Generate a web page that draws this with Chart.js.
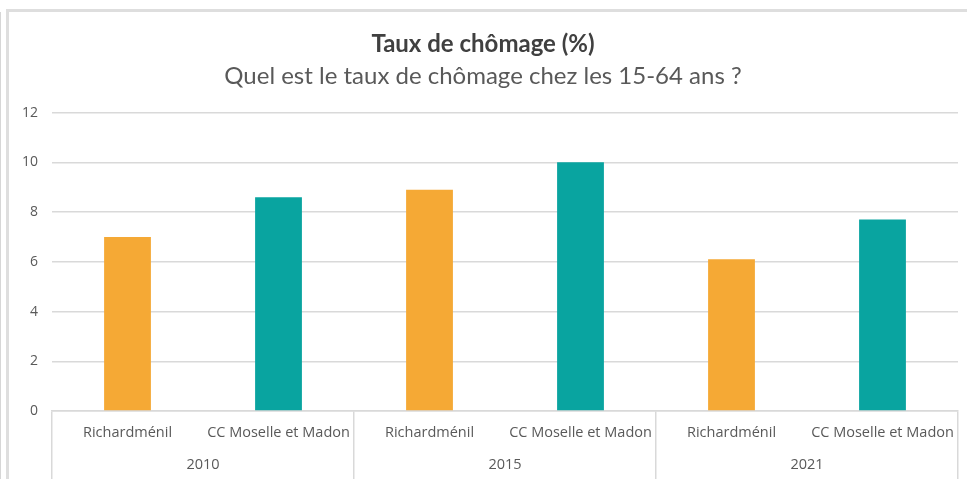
<!DOCTYPE html>
<html>
<head>
<meta charset="utf-8">
<script src="https://cdn.jsdelivr.net/npm/chart.js@4"></script>
<style>
  html, body { margin: 0; padding: 0; background: #fff; }
  #wrap { position: relative; width: 967px; height: 479px; overflow: hidden; }
  #edge { position: absolute; left: 0; top: 12px; width: 1px; height: 470px; background: #d6d6d6; }
  #frame { position: absolute; left: 6px; top: 9px; width: 970px; height: 480px;
           border-left: 3px solid #dedede; border-top: 3px solid #dedede; }
  canvas { position: absolute; left: 0; top: 0; }
</style>
</head>
<body>
<div id="wrap">
  <div id="edge"></div>
  <div id="frame"></div>
  <canvas id="myChart" width="967" height="479"></canvas>
</div>
<script>
var years = ['2010', '2015', '2021'];
var territories = ['Richardménil', 'CC Moselle et Madon'];
var richardmenil = [7.0, 8.9, 6.1];
var ccMoselle = [8.6, 10.0, 7.7];
var yTicks = [0, 2, 4, 6, 8, 10, 12];

var orange = '#F5A935';
var teal = '#09A4A0';
var line = '#d9d9d9';
var axisFont = { family: 'Open Sans', size: 14.5 };

// one bar per (year, territory), in reading order
var labels = [], values = [], colors = [];
years.forEach(function (y, i) {
  labels.push(territories[0]); values.push(richardmenil[i]); colors.push(orange);
  labels.push(territories[1]); values.push(ccMoselle[i]); colors.push(teal);
});

var ctx = document.getElementById('myChart').getContext('2d');
var chart = new Chart(ctx, {
  type: 'bar',
  data: {
    labels: labels,
    datasets: [{
      data: values,
      backgroundColor: colors,
      borderWidth: 0,
      categoryPercentage: 1,
      barPercentage: 0.31
    }]
  },
  options: {
    responsive: false,
    animation: false,
    layout: { padding: { left: 8, right: 9, top: 30, bottom: 0 } },
    plugins: {
      legend: { display: false },
      tooltip: { enabled: false },
      title: {
        display: true,
        text: 'Taux de chômage (%)',
        color: '#404040',
        font: { family: 'Lato', size: 24, weight: 'bold' },
        padding: { top: 0, bottom: 3 }
      },
      subtitle: {
        display: true,
        text: 'Quel est le taux de chômage chez les 15-64 ans ?',
        color: '#595959',
        font: { family: 'Lato', size: 24 },
        padding: { top: 0, bottom: 22 }
      }
    },
    scales: {
      y: {
        min: yTicks[0],
        max: yTicks[yTicks.length - 1],
        ticks: { stepSize: 2, padding: 14, color: '#595959', font: { family: 'Open Sans', size: 14 } },
        grid: { color: line, lineWidth: 1.5, drawTicks: false },
        border: { display: false }
      },
      // inner level: territory names, its tick marks make the group separators
      x: {
        weight: 0,
        offset: true,
        ticks: { autoSkip: false, maxRotation: 0, padding: -55, color: '#595959', font: axisFont },
        grid: {
          offset: true,
          drawOnChartArea: false,
          tickLength: 68,
          lineWidth: 1.5,
          color: function (c) {
            return (c.index === undefined || c.index % 2 === 0) ? line : 'rgba(0,0,0,0)';
          }
        },
        border: { display: true, color: line, width: 1.5 },
        afterFit: function (scale) { scale.height = 32; }
      },
      // outer level: years
      x2: {
        type: 'category',
        position: 'bottom',
        weight: 1,
        labels: years,
        offset: true,
        ticks: { maxRotation: 0, padding: 13, color: '#595959', font: axisFont },
        grid: { display: false, drawTicks: false },
        border: { display: false },
        afterFit: function (scale) { scale.height = 36; }
      }
    }
  }
});
</script>
</body>
</html>
